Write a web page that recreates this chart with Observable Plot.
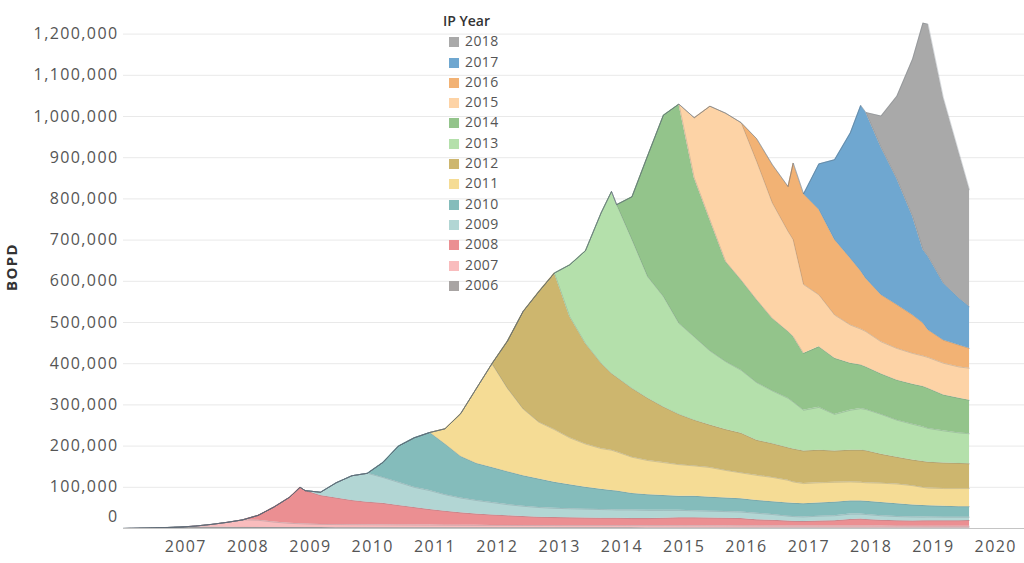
<!DOCTYPE html>
<html>
<head>
<meta charset="utf-8">
<script src="https://cdn.jsdelivr.net/npm/d3@7"></script>
<script src="https://cdn.jsdelivr.net/npm/@observablehq/plot@0.6"></script>
<style>
  body { margin: 0; background: #fff; }
  #wrap { position: relative; width: 1024px; height: 563px; font-family: "Open Sans", sans-serif; }
  #wrap svg { position: absolute; left: 0; top: 0; }
  #legend { position: absolute; left: 443px; top: 11px; font-family: "Open Sans", sans-serif; }
  #legend .title { height: 20.3px; line-height: 20.3px; font-size: 14px; font-weight: 600; color: #333; }
  #legend .item { height: 20.3px; line-height: 20.3px; font-size: 14px; color: #555; letter-spacing: 0.4px; white-space: nowrap; }
  #legend .sw { display: inline-block; width: 10px; height: 10px; margin-left: 6px; margin-right: 6px; vertical-align: -1px; }
</style>
</head>
<body>
<div id="wrap"><div id="legend"></div></div>
<script>
// Month stamps of the readings (shared by all IP-year cohorts)
const dates = [
  "2006-01-01","2006-03-01","2006-06-01","2006-09-01","2006-12-01",
  "2007-03-01","2007-06-01","2007-09-01","2007-12-01",
  "2008-03-01","2008-06-01","2008-09-01","2008-11-01","2008-12-01",
  "2009-03-01","2009-06-01","2009-09-01","2009-12-01",
  "2010-03-01","2010-06-01","2010-09-01","2010-12-01",
  "2011-03-01","2011-06-01","2011-09-01","2011-12-01",
  "2012-03-01","2012-06-01","2012-09-01","2012-12-01",
  "2013-03-01","2013-06-01","2013-09-01","2013-11-01","2013-12-01",
  "2014-03-01","2014-06-01","2014-09-01","2014-12-01",
  "2015-03-01","2015-06-01","2015-09-01","2015-12-01",
  "2016-03-01","2016-06-01","2016-09-01","2016-10-01","2016-12-01",
  "2017-03-01","2017-06-01","2017-09-01","2017-11-01","2017-12-01",
  "2018-03-01","2018-06-01","2018-09-01","2018-11-01","2018-12-01",
  "2019-03-01","2019-06-01","2019-08-01"
];

const cohorts = ["2006","2007","2008","2009","2010","2011","2012","2013","2014","2015","2016","2017","2018"];
const cohortColors = ["#a8a4a3","#f9bcbd","#eb8f92","#b2d6d4","#84bcbb","#f5dc95","#cdb66e","#b4e0ab","#93c48b","#fdd3a6","#f2b274","#6fa7d0","#a9a9a9"];

// BOPD in thousands, each cohort from its first month to Aug 2019
const ip2006 = [0.2,0.5,1.2,2.2,3.5,3.3,3.1,2.9,2.7,2.5,2.4,2.3,2.3,2.2,2.2,2.1,2.1,2.0,2.0,2.0,1.9,1.9,1.9,1.8,1.8,1.8,1.7,1.7,1.7,
  1.6,1.6,1.6,1.6,1.6,1.6,1.6, 1.5,1.5,1.5,1.5,1.5,1.5,1.5,1.5, 1.4,1.4,1.4,1.4,1.4,1.4,1.4,1.4,1.4, 1.3,1.3,1.3,1.3,1.3,1.3,1.3,1.3];
const ip2007 = [2.7,6.9,12.1,18.3,17.5,13.1,10.2,9.2,8.8,7.8,7.4,7.1,7.0,6.8,6.6,6.5,6.3,6.1,6.0,5.8,5.7,5.7,5.6,5.5,5.5,
  5.4,5.4,5.4,5.4,5.4,5.3,5.3,5.3,5.2,5.1,5.0,4.9,4.8,4.7,4.7,4.6,4.6,4.6,4.6,4.6,4.6,4.6,4.6,4.5,4.4,4.3,4.2,4.2,4.1,4.0,4.0];
const ip2008 = [12,36.5,63.5,88.5,81, 70,64.5,58.8,55, 52.2,47.4,42.6,37.8, 34,30.2,27.4,25.5, 23.6,21.7,20.3,19.4,
  19,18.5,18,18,18, 17.1,17.2,18.2,19.3, 19.4,19,18.6,17.7, 14.8,13.9,12,11.5,11, 12,13,16,17,16, 14.2,13.3,12.9,13.2,13.5, 13.6,13.7,14.2];
const ip2009 = [8,37,60,70, 63,56,49,46, 40,36,33,30, 27,25,23.5,22.5, 22,21.5,21,20.5,20, 21,20,19,18, 17,16.5,16,16,
  16,14,12,11.5,11, 12,12,13,12,12, 11,10,9.5,9,9, 8.5,8.5,8];
const ip2010 = [36,88,120,141, 123,101,90,85, 80,74,69,63, 58,53,49,46.5,46, 40,38,36,34, 35,34,33,32, 31,31,32,32,32,
  32,33,32,32,32, 32,31,29,28,27, 26.5,25.5,25.5];
const ip2011 = [37,104,182,252, 202,162,138,128, 114,105,99,98,95, 88,83,80,77, 74,72,67,63, 61,59,55,52,49,
  49,48,46,45,45, 47,48,47,44,43, 43,44,44];
const ip2012 = [115,237,317,380, 294,244,207,186,181, 167,151,135,122, 111,103,99,96, 85,82,79,80,79,
  79,76,77,78,78, 70,65,62,63,63, 62,61,60];
const ip2013 = [126,225,365,442,419, 361,295,268,221, 202,180,165,153, 140,128,120,114,99, 104,89,97,101,100, 97,90,87,84,82, 78,74,73];
const ip2014 = [104,294,440,532, 386,318,243,219, 201,176,162,159,138, 147,136,114,106,103, 98,97,97,98,97, 87,84,81];
const ip2015 = [146,276,360,382, 336,280,243,235,167, 126,105,93,87,86, 78,77,75,74,75, 77,76,78];
const ip2016 = [55,93,109,186,220, 207,183,162,141,129, 114,106,93,80,67, 56,53,48];
const ip2017 = [111,194,304,402,403, 357,305,239,178,178, 138,114,101];
const ip2018 = [77,201,382,550,564, 450,352,284];

const yTicks = [0,100000,200000,300000,400000,500000,600000,700000,800000,900000,1000000,1100000,1200000];
const xTickYears = [2007,2008,2009,2010,2011,2012,2013,2014,2015,2016,2017,2018,2019,2020];

// Build the long table (zeros before a cohort's first month)
const seriesList = [ip2006,ip2007,ip2008,ip2009,ip2010,ip2011,ip2012,ip2013,ip2014,ip2015,ip2016,ip2017,ip2018];
const table = [];
cohorts.forEach((c, k) => {
  const vals = seriesList[k];
  const pad = dates.length - vals.length;
  dates.forEach((d, i) => {
    const v = i < pad ? 0 : vals[i - pad];
    table.push({date: new Date(d), cohort: c, bopd: v * 1000});
  });
});
const xTicks = xTickYears.map(y => new Date(`${y}-01-01`));

const chart = Plot.plot({
  width: 1024,
  height: 563,
  marginLeft: 123,
  marginRight: 0,
  marginTop: 13,
  marginBottom: 35,
  x: {type: "utc", domain: [new Date("2006-01-01"), new Date("2020-06-18")]},
  y: {domain: [0, 1250000]},
  color: {domain: cohorts, range: cohortColors},
  style: {fontFamily: "Open Sans, sans-serif", fontSize: "16px", color: "#555", background: "transparent", letterSpacing: "1.4px"},
  marks: [
    Plot.gridY(yTicks, {stroke: "#e9e9e9", strokeOpacity: 1}),
    Plot.areaY(table, {x: "date", y: "bopd", z: "cohort", fill: "cohort", order: cohorts}),
    Plot.lineY(table, Plot.stackY2({x: "date", y: "bopd", z: "cohort", order: cohorts, stroke: "#5d6873", strokeOpacity: 0.3, strokeWidth: 0.8})),
    Plot.ruleY([0], {stroke: "#c4c4c4"}),
    Plot.axisY(yTicks.filter(d => d > 0), {tickSize: 0, tickPadding: 5, tickFormat: d3.format(","), label: null}),
    Plot.axisY([0], {tickSize: 0, tickPadding: 5, dy: -12, tickFormat: d3.format(","), label: null}),
    Plot.axisX(xTicks, {tickSize: 0, tickPadding: 12, tickFormat: "%Y", label: null}),
    Plot.text(["BOPD"], {frameAnchor: "left", dx: -111, dy: -4, rotate: -90, textAnchor: "middle", fontWeight: "bold", fontSize: 15, fill: "#333", text: d => d})
  ]
});
document.getElementById("wrap").prepend(chart);

// Legend (top-most cohort first)
const legend = document.getElementById("legend");
const t = document.createElement("div");
t.className = "title";
t.textContent = "IP Year";
legend.appendChild(t);
cohorts.slice().reverse().forEach(c => {
  const row = document.createElement("div");
  row.className = "item";
  const sw = document.createElement("span");
  sw.className = "sw";
  sw.style.background = cohortColors[cohorts.indexOf(c)];
  row.appendChild(sw);
  row.appendChild(document.createTextNode(c));
  legend.appendChild(row);
});
</script>
</body>
</html>
